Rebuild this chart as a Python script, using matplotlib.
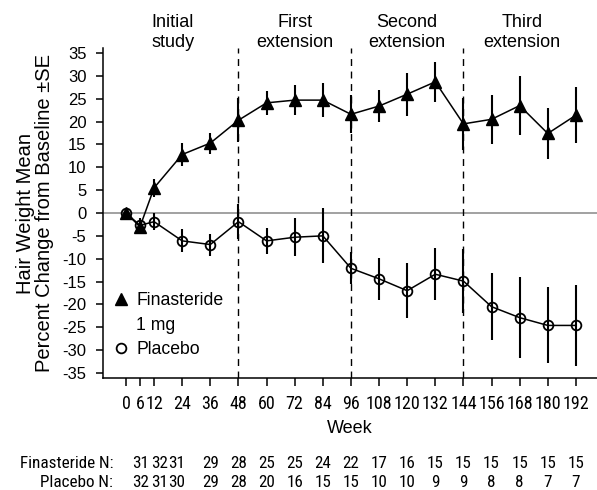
import matplotlib
matplotlib.use("Agg")

import matplotlib.pyplot as plt
from matplotlib import font_manager
from matplotlib.font_manager import FontProperties
from matplotlib.lines import Line2D
from matplotlib.transforms import blended_transform_factory

# ---- data ----
weeks = [0, 6, 12, 24, 36, 48, 60, 72, 84, 96, 108, 120, 132, 144, 156, 168, 180, 192]

fin_mean = [0, -3.0, 5.5, 12.8, 15.3, 20.3, 24.1, 24.7, 24.7, 21.6, 23.4, 26.0, 28.7,
            19.5, 20.5, 23.5, 17.4, 21.4]
fin_se = [0.8, 1.5, 2.0, 2.6, 2.3, 4.8, 2.7, 3.2, 3.8, 4.2, 3.5, 4.7, 4.4,
          5.7, 5.3, 6.5, 5.6, 6.1]

pla_mean = [0, -2.7, -1.9, -6.1, -6.9, -1.9, -6.1, -5.3, -5.0, -12.1, -14.4, -17.0, -13.4,
            -14.9, -20.5, -22.9, -24.6, -24.6]
pla_se = [0.8, 1.5, 1.8, 2.5, 2.4, 3.8, 2.9, 4.1, 6.0, 3.5, 4.6, 6.0, 5.7,
          7.0, 7.3, 8.9, 8.3, 8.9]

fin_n = [31, 32, 31, 29, 28, 25, 25, 24, 22, 17, 16, 15, 15, 15, 15, 15, 15]
pla_n = [32, 31, 30, 29, 28, 20, 16, 15, 15, 10, 10, 9, 9, 8, 8, 7, 7]

period_labels = ["Initial\nstudy", "First\nextension", "Second\nextension", "Third\nextension"]
period_bounds = [48, 96, 144]

yticks = list(range(-35, 40, 5))

# layout: where the period titles and N columns sit (in week units)
period_x = [20, 72, 120, 169]
n_col_x = [6.4, 14.5, 21.8] + weeks[4:]

# ---- fonts ----
installed = {f.name for f in font_manager.fontManager.ttflist}
REG = "Liberation Sans" if "Liberation Sans" in installed else "DejaVu Sans"
plt.rcParams["font.family"] = REG


def is_upright(f):
    return f.style == "normal" and f.weight in (400, "normal", "regular", "book")


def find_narrow():
    # prefer a real narrow/condensed sans, upright and regular weight
    entries = [f for f in font_manager.fontManager.ttflist if is_upright(f)]
    for key in ("Liberation Sans Narrow", "Arial Narrow", "Roboto Condensed",
                "DejaVu Sans Condensed", "Open Sans Condensed", "Noto Sans Condensed"):
        for f in entries:
            if f.name == key or key.replace(" ", "") in f.fname.replace("-", ""):
                return FontProperties(fname=f.fname)
    for f in entries:
        if "Narrow" in f.name or "Condensed" in f.name or \
                f.stretch in ("condensed", "semi-condensed"):
            return FontProperties(fname=f.fname)
    return None


narrow = find_narrow()
if narrow is None:
    narrow = FontProperties(family=REG)
    tick_fs, n_fs = 10.5, 10.5
else:
    tick_fs, n_fs = 13, 12.3


def nfont(size):
    fp = narrow.copy()
    fp.set_size(size)
    return fp


fig = plt.figure(figsize=(5.97, 4.90), dpi=100)
ax = fig.add_axes([0.1725, 0.2286, 0.8275, 0.6734])

ax.axhline(0, color="#9a9a9a", lw=1.3, zorder=1)
for b in period_bounds:
    ax.axvline(b, color="black", lw=1.0, ls=(0, (5, 4)), zorder=1)

ax.errorbar(weeks, pla_mean, yerr=pla_se, fmt="-", color="black", lw=1.1,
            elinewidth=1.5, capsize=0, marker="o", ms=7, mfc="none", mec="black",
            mew=1.3, zorder=3)
ax.errorbar(weeks, fin_mean, yerr=fin_se, fmt="-", color="black", lw=1.1,
            elinewidth=1.5, capsize=0, marker="^", ms=8.5, mfc="black", mec="black",
            zorder=4)

ax.set_xlim(-9.8, 201)
ax.set_ylim(-36.1, 36.1)
ax.set_xticks(weeks)
ax.set_xticklabels([str(w) for w in weeks], fontproperties=nfont(tick_fs))
ax.set_yticks(yticks)
ax.set_yticklabels([str(t) for t in yticks], fontsize=12)
ax.tick_params(axis="x", length=6, width=1.1, pad=6)
ax.tick_params(axis="y", length=5, width=1.1, pad=7)

for side in ["top", "right"]:
    ax.spines[side].set_visible(False)
for side in ["left", "bottom"]:
    ax.spines[side].set_linewidth(1.1)

ax.set_ylabel("Hair Weight Mean\nPercent Change from Baseline \u00b1SE", fontsize=14.5,
              labelpad=6, linespacing=1.0)
ax.set_xlabel("Week", fontsize=13, labelpad=5)

trans_top = blended_transform_factory(ax.transData, fig.transFigure)
for lab, xc in zip(period_labels, period_x):
    ax.text(xc, 1 - 32.5 / 490, lab, transform=trans_top, ha="center", va="center",
            fontsize=13, linespacing=1.2)

# legend
handles = [
    Line2D([], [], ls="none", marker="^", ms=8.5, color="black"),
    Line2D([], [], ls="none", marker="none"),
    Line2D([], [], ls="none", marker="o", ms=7, mfc="none", mec="black", mew=1.3),
]
ax.legend(handles, ["Finasteride", "1 mg", "Placebo"], loc="lower left",
          bbox_to_anchor=(-0.006, 0.022), frameon=False, fontsize=12.7,
          handlelength=1.0, handletextpad=0.35, labelspacing=0.44, borderaxespad=0.3)

# N table
y_fin = 1 - 463 / 490
y_pla = 1 - 482 / 490
fig.text(113 / 597, y_fin, "Finasteride N:", ha="right", va="center",
         fontproperties=nfont(n_fs))
fig.text(113 / 597, y_pla, "Placebo N:", ha="right", va="center",
         fontproperties=nfont(n_fs))
for xc, nf, npl in zip(n_col_x, fin_n, pla_n):
    ax.text(xc, y_fin, str(nf), transform=trans_top, ha="center", va="center",
            fontproperties=nfont(n_fs))
    ax.text(xc, y_pla, str(npl), transform=trans_top, ha="center", va="center",
            fontproperties=nfont(n_fs))

fig.savefig("out.png", dpi=100)
